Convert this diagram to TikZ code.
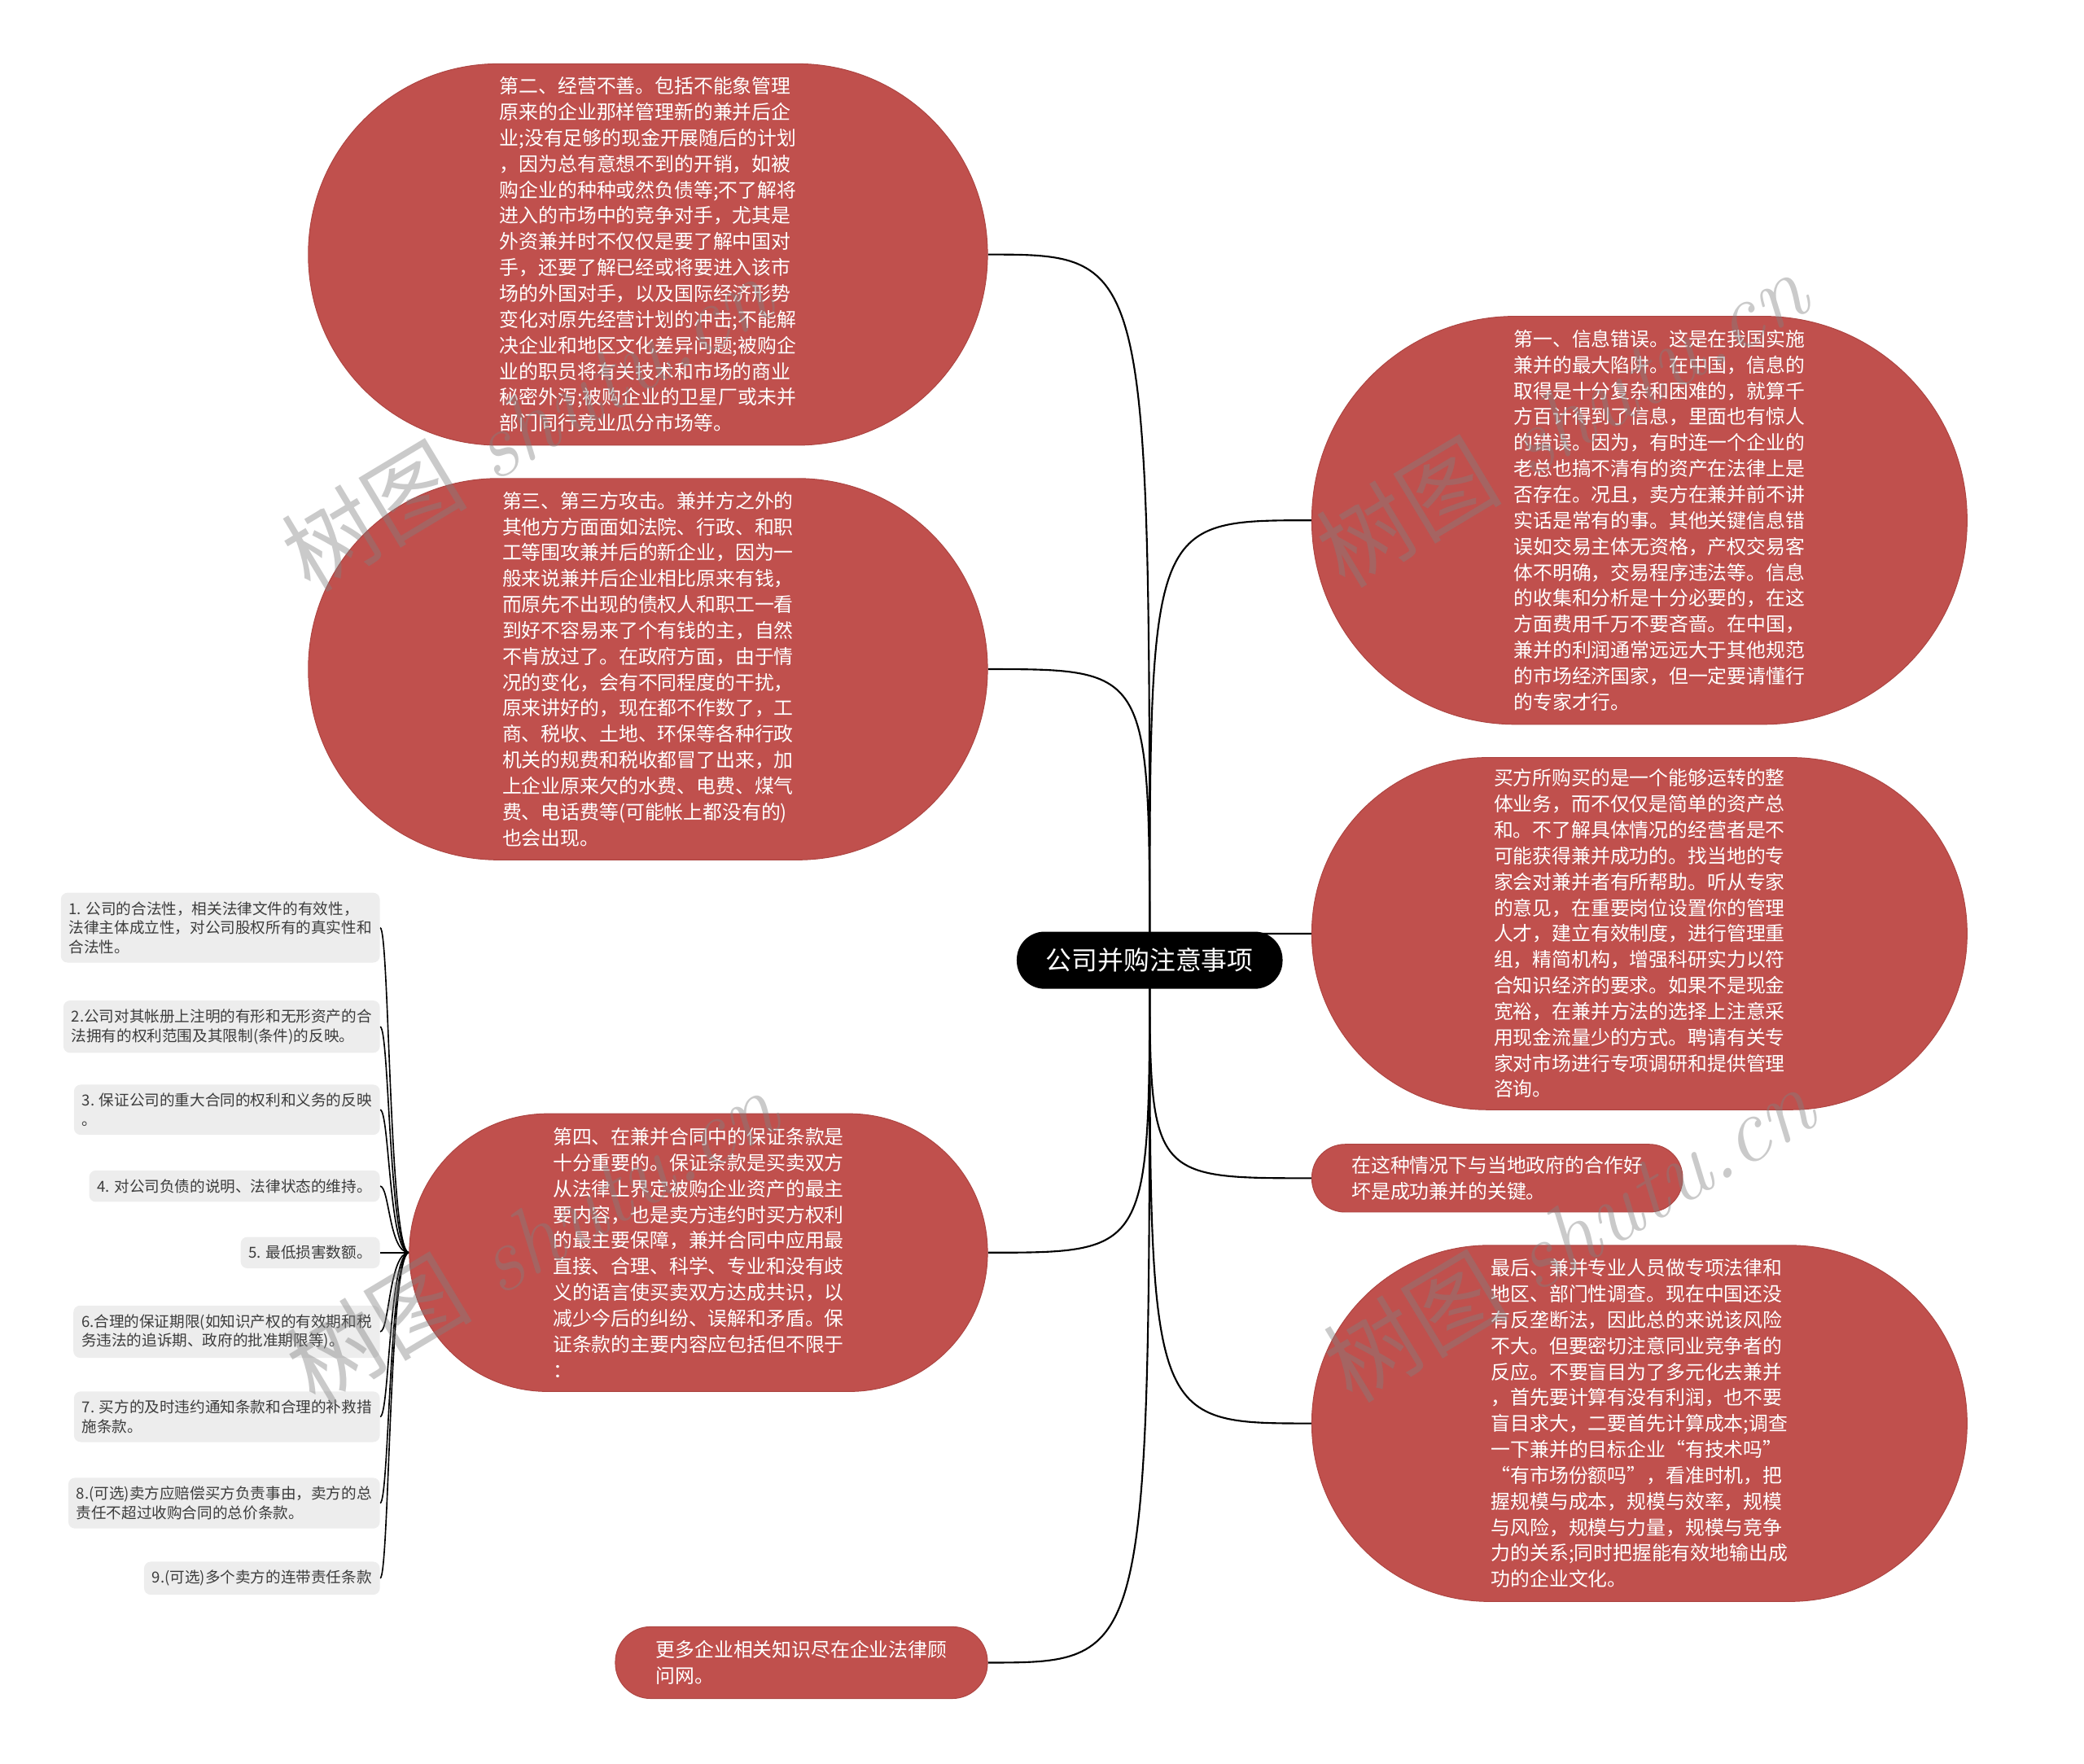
\documentclass[tikz,border=0pt]{standalone}
\usepackage{fontspec}
\usepackage{tikz}
\newfontfamily\cjk{Noto Sans CJK SC}
\definecolor{ziegel}{HTML}{C0504D}
\definecolor{ziegeld}{HTML}{AD4542}
\definecolor{hgrau}{HTML}{EDEDED}
\definecolor{dgrau}{HTML}{3C3C3C}
\pgfdeclarelayer{hinten}
\pgfsetlayers{hinten,main}
\tikzset{
  blase/.style={rectangle,fill=ziegel,draw=ziegeld,line width=0.6pt,text=white,align=left,inner sep=0pt,font=\cjk\fontsize{14.6}{19.5}\selectfont},
  wurzel/.style={rectangle,rounded corners=21pt,fill=black,text=white,inner sep=0pt,minimum width=200pt,minimum height=43pt,font=\cjk\fontsize{19.5}{22}\selectfont},
  punkt/.style={anchor=east,fill=hgrau,rounded corners=5pt,text=dgrau,align=left,inner xsep=6pt,inner ysep=6.5pt,font=\cjk\fontsize{11.4}{14.5}\selectfont},
  ast/.style={black,line width=1.3pt},
  zweig/.style={black,line width=1pt},
  wasser/.style={black!50,opacity=0.42,rotate=31,inner sep=0pt,font=\fontsize{70}{72}\selectfont},
}
\begin{document}
\begin{tikzpicture}[x=1pt,y=-1pt]
  \useasboundingbox (0,0) rectangle (1568,1327);
  % Wurzel
  \node[wurzel] (root) at (865,722.5) {公司并购注意事项};
  % Blasen links
  \node[blase,minimum width=511pt,minimum height=287pt,rounded corners=143pt] (n2) at (487.5,191.5) {第二、经营不善。包括不能象管理\\原来的企业那样管理新的兼并后企\\业;没有足够的现金开展随后的计划\\，因为总有意想不到的开销，如被\\购企业的种种或然负债等;不了解将\\进入的市场中的竞争对手，尤其是\\外资兼并时不仅仅是要了解中国对\\手，还要了解已经或将要进入该市\\场的外国对手，以及国际经济形势\\变化对原先经营计划的冲击;不能解\\决企业和地区文化差异问题;被购企\\业的职员将有关技术和市场的商业\\秘密外泻;被购企业的卫星厂或未并\\部门同行竞业瓜分市场等。};
  \node[blase,minimum width=511pt,minimum height=287pt,rounded corners=143pt] (n3) at (487.5,503.5) {第三、第三方攻击。兼并方之外的\\其他方方面面如法院、行政、和职\\工等围攻兼并后的新企业，因为一\\般来说兼并后企业相比原来有钱，\\而原先不出现的债权人和职工一看\\到好不容易来了个有钱的主，自然\\不肯放过了。在政府方面，由于情\\况的变化，会有不同程度的干扰，\\原来讲好的，现在都不作数了，工\\商、税收、土地、环保等各种行政\\机关的规费和税收都冒了出来，加\\上企业原来欠的水费、电费、煤气\\费、电话费等(可能帐上都没有的)\\也会出现。};
  \node[blase,minimum width=435pt,minimum height=209pt,rounded corners=104pt] (n4) at (525.5,942.5) {第四、在兼并合同中的保证条款是\\十分重要的。保证条款是买卖双方\\从法律上界定被购企业资产的最主\\要内容，也是卖方违约时买方权利\\的最主要保障，兼并合同中应用最\\直接、合理、科学、专业和没有歧\\义的语言使买卖双方达成共识，以\\减少今后的纠纷、误解和矛盾。保\\证条款的主要内容应包括但不限于\\：};
  \node[blase,minimum width=280pt,minimum height=54pt,rounded corners=26.5pt] (n8) at (603,1251) {更多企业相关知识尽在企业法律顾\\问网。};
  % Blasen rechts
  \node[blase,minimum width=493pt,minimum height=307pt,rounded corners=153pt] (n1) at (1233.5,391.5) {\hspace*{30pt}第一、信息错误。这是在我国实施\\\hspace*{30pt}兼并的最大陷阱。在中国，信息的\\\hspace*{30pt}取得是十分复杂和困难的，就算千\\\hspace*{30pt}方百计得到了信息，里面也有惊人\\\hspace*{30pt}的错误。因为，有时连一个企业的\\\hspace*{30pt}老总也搞不清有的资产在法律上是\\\hspace*{30pt}否存在。况且，卖方在兼并前不讲\\\hspace*{30pt}实话是常有的事。其他关键信息错\\\hspace*{30pt}误如交易主体无资格，产权交易客\\\hspace*{30pt}体不明确，交易程序违法等。信息\\\hspace*{30pt}的收集和分析是十分必要的，在这\\\hspace*{30pt}方面费用千万不要吝啬。在中国，\\\hspace*{30pt}兼并的利润通常远远大于其他规范\\\hspace*{30pt}的市场经济国家，但一定要请懂行\\\hspace*{30pt}的专家才行。};
  \node[blase,minimum width=493pt,minimum height=265pt,rounded corners=132pt] (n5) at (1233.5,702.5) {买方所购买的是一个能够运转的整\\体业务，而不仅仅是简单的资产总\\和。不了解具体情况的经营者是不\\可能获得兼并成功的。找当地的专\\家会对兼并者有所帮助。听从专家\\的意见，在重要岗位设置你的管理\\人才，建立有效制度，进行管理重\\组，精简机构，增强科研实力以符\\合知识经济的要求。如果不是现金\\宽裕，在兼并方法的选择上注意采\\用现金流量少的方式。聘请有关专\\家对市场进行专项调研和提供管理\\咨询。};
  \node[blase,minimum width=279pt,minimum height=51pt,rounded corners=25pt] (n6) at (1126.5,886.5) {在这种情况下与当地政府的合作好\\坏是成功兼并的关键。};
  \node[blase,minimum width=493pt,minimum height=268pt,rounded corners=133.5pt] (n7) at (1233.5,1071) {最后、兼并专业人员做专项法律和\\地区、部门性调查。现在中国还没\\有反垄断法，因此总的来说该风险\\不大。但要密切注意同业竞争者的\\反应。不要盲目为了多元化去兼并\\，首先要计算有没有利润，也不要\\盲目求大，二要首先计算成本;调查\\一下兼并的目标企业“有技术吗”\\“有市场份额吗”，看准时机，把\\握规模与成本，规模与效率，规模\\与风险，规模与力量，规模与竞争\\力的关系;同时把握能有效地输出成\\功的企业文化。};
  % Punkte zu n4
  \node[punkt] (g1) at (286,698) {1. 公司的合法性，相关法律文件的有效性，\\法律主体成立性，对公司股权所有的真实性和\\合法性。};
  \node[punkt] (g2) at (286,772.5) {2.公司对其帐册上注明的有形和无形资产的合\\法拥有的权利范围及其限制(条件)的反映。};
  \node[punkt] (g3) at (286,835) {3. 保证公司的重大合同的权利和义务的反映\\。};
  \node[punkt] (g4) at (286,892.5) {4. 对公司负债的说明、法律状态的维持。};
  \node[punkt] (g5) at (286,942.5) {5. 最低损害数额。};
  \node[punkt] (g6) at (286,1002) {6.合理的保证期限(如知识产权的有效期和税\\务违法的追诉期、政府的批准期限等)。};
  \node[punkt] (g7) at (286,1066) {7. 买方的及时违约通知条款和合理的补救措\\施条款。};
  \node[punkt] (g8) at (286,1131) {8.(可选)卖方应赔偿买方负责事由，卖方的总\\责任不超过收购合同的总价条款。};
  \node[punkt] (g9) at (286,1187.5) {9.(可选)多个卖方的连带责任条款};
  \begin{pgfonlayer}{hinten}
    % Aeste von der Wurzel
    \draw[ast] (root.center) .. controls (root.center |- n2.east) .. (n2.east);
    \draw[ast] (root.center) .. controls (root.center |- n3.east) .. (n3.east);
    \draw[ast] (root.center) .. controls (root.center |- n4.east) .. (n4.east);
    \draw[ast] (root.center) .. controls (root.center |- n8.east) .. (n8.east);
    \draw[ast] (root.center) .. controls (root.center |- n1.west) .. (n1.west);
    \draw[ast] (root.center) .. controls (root.center |- n5.west) .. (n5.west);
    \draw[ast] (root.center) .. controls (root.center |- n6.west) .. (n6.west);
    \draw[ast] (root.center) .. controls (root.center |- n7.west) .. (n7.west);
    % Zweige zu den Punkten
    \draw[zweig] (n4.west) .. controls ([xshift=-15pt]n4.west) and ([xshift=7pt]g1.east) .. (g1.east);
    \draw[zweig] (n4.west) .. controls ([xshift=-15pt]n4.west) and ([xshift=7pt]g2.east) .. (g2.east);
    \draw[zweig] (n4.west) .. controls ([xshift=-15pt]n4.west) and ([xshift=7pt]g3.east) .. (g3.east);
    \draw[zweig] (n4.west) .. controls ([xshift=-15pt]n4.west) and ([xshift=7pt]g4.east) .. (g4.east);
    \draw[zweig] (n4.west) -- (g5.east);
    \draw[zweig] (n4.west) .. controls ([xshift=-15pt]n4.west) and ([xshift=7pt]g6.east) .. (g6.east);
    \draw[zweig] (n4.west) .. controls ([xshift=-15pt]n4.west) and ([xshift=7pt]g7.east) .. (g7.east);
    \draw[zweig] (n4.west) .. controls ([xshift=-15pt]n4.west) and ([xshift=7pt]g8.east) .. (g8.east);
    \draw[zweig] (n4.west) .. controls ([xshift=-15pt]n4.west) and ([xshift=7pt]g9.east) .. (g9.east);
  \end{pgfonlayer}
  % Wasserzeichen
  \node[wasser] (wz1) at (396,318) {{\cjk 树图} \itshape shutu.cn};
  \node[wasser] (wz2) at (1175,315) {{\cjk 树图} \itshape shutu.cn};
  \node[wasser] (wz3) at (400,930) {{\cjk 树图} \itshape shutu.cn};
  \node[wasser] (wz4) at (1180,928) {{\cjk 树图} \itshape shutu.cn};
\end{tikzpicture}
\end{document}
